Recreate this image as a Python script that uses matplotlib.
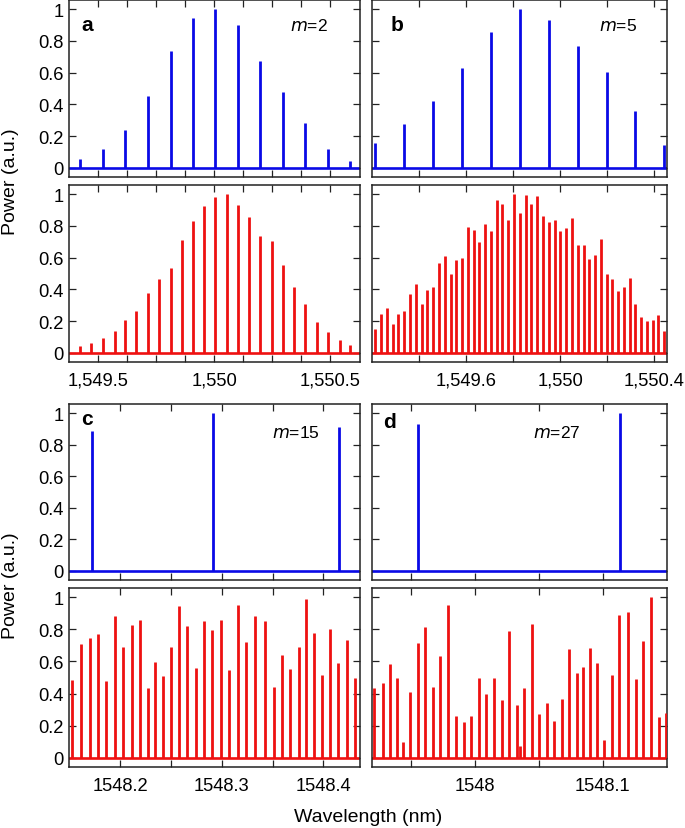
import matplotlib
matplotlib.use("Agg")
import matplotlib.pyplot as plt

plt.rcParams['font.family'] = ['Liberation Sans', 'DejaVu Sans']

BLUE = '#0a0ae6'
RED = '#ee1111'

# ---- panel a (m=2) ----
a_blue_nm = [1549.422, 1549.521, 1549.618, 1549.715, 1549.812, 1549.909, 1550.004,
             1550.102, 1550.197, 1550.295, 1550.392, 1550.491, 1550.585]
a_blue_pw = [0.055, 0.118, 0.237, 0.452, 0.737, 0.945, 0.998, 0.897, 0.676, 0.481,
             0.286, 0.118, 0.046]
a_red_nm = [1549.422, 1549.471, 1549.521, 1549.571, 1549.618, 1549.665, 1549.715,
            1549.764, 1549.812, 1549.861, 1549.909, 1549.957, 1550.004, 1550.055,
            1550.102, 1550.150, 1550.197, 1550.248, 1550.295, 1550.343, 1550.392,
            1550.441, 1550.491, 1550.539, 1550.585]
a_red_pw = [0.042, 0.065, 0.092, 0.136, 0.205, 0.266, 0.377, 0.464, 0.533, 0.709,
            0.833, 0.925, 0.981, 1.0, 0.933, 0.858, 0.734, 0.705, 0.552, 0.416,
            0.310, 0.192, 0.132, 0.082, 0.05]

# ---- panel b (m=5) ----
b_blue_nm = [1549.213, 1549.336, 1549.459, 1549.582, 1549.705, 1549.828, 1549.951,
             1550.074, 1550.197, 1550.320, 1550.443]
b_blue_pw = [0.157, 0.277, 0.421, 0.629, 0.857, 1.0, 0.933, 0.769, 0.604, 0.358, 0.147]
b_red_nm = [1549.213, 1549.238, 1549.262, 1549.287, 1549.311, 1549.336, 1549.361,
            1549.385, 1549.410, 1549.434, 1549.459, 1549.484, 1549.508, 1549.533,
            1549.557, 1549.582, 1549.607, 1549.631, 1549.656, 1549.680, 1549.705,
            1549.730, 1549.754, 1549.779, 1549.803, 1549.828, 1549.853, 1549.877,
            1549.902, 1549.926, 1549.951, 1549.976, 1550.000, 1550.025, 1550.049,
            1550.074, 1550.099, 1550.123, 1550.148, 1550.172, 1550.197, 1550.222,
            1550.246, 1550.271, 1550.295, 1550.320, 1550.345, 1550.369, 1550.394,
            1550.418, 1550.443]
b_red_pw = [0.152, 0.245, 0.283, 0.183, 0.245, 0.262, 0.374, 0.432, 0.308, 0.395,
            0.412, 0.568, 0.609, 0.495, 0.584, 0.599, 0.790, 0.775, 0.696, 0.813,
            0.765, 0.963, 0.936, 0.838, 1.0, 0.879, 0.994, 0.940, 0.988, 0.859,
            0.827, 0.834, 0.765, 0.786, 0.852, 0.678, 0.678, 0.593, 0.615, 0.717,
            0.499, 0.468, 0.391, 0.418, 0.474, 0.308, 0.229, 0.204, 0.208, 0.239,
            0.135]

# ---- panel c (m=15) ----
c_blue_nm = [1548.172, 1548.2916, 1548.4157]
c_blue_pw = [0.887, 1.0, 0.912]
c_red_nm = [1548.1529, 1548.1615, 1548.1700, 1548.1781, 1548.1863, 1548.1948,
            1548.2029, 1548.2115, 1548.2196, 1548.2275, 1548.2343, 1548.2419,
            1548.2497, 1548.2578, 1548.2661, 1548.2742, 1548.2824, 1548.2906,
            1548.2990, 1548.3075, 1548.3161, 1548.3242, 1548.3324, 1548.3422,
            1548.3510, 1548.3592, 1548.3674, 1548.3755, 1548.3830, 1548.3906,
            1548.3984, 1548.4066, 1548.4147, 1548.4229, 1548.4311]
c_red_pw = [0.485, 0.707, 0.748, 0.773, 0.478, 0.885, 0.687, 0.829, 0.856, 0.437,
            0.596, 0.507, 0.687, 0.946, 0.819, 0.557, 0.849, 0.794, 0.856, 0.546,
            0.953, 0.720, 0.885, 0.854, 0.439, 0.643, 0.551, 0.691, 0.990, 0.779,
            0.513, 0.804, 0.588, 0.732, 0.495]

# ---- panel d (m=27) ----
d_blue_nm = [1547.9556, 1548.1135]
d_blue_pw = [0.933, 1.0]
d_red_nm = [1547.9212, 1547.9277, 1547.9334, 1547.9387, 1547.9434, 1547.9491,
            1547.9551, 1547.9608, 1547.9669, 1547.9726, 1547.9786, 1547.9851,
            1547.9911, 1547.9969, 1548.0029, 1548.0086, 1548.0146, 1548.0209,
            1548.0266, 1548.0326, 1548.0352, 1548.0384, 1548.0444, 1548.0501,
            1548.0561, 1548.0621, 1548.0679, 1548.0739, 1548.0799, 1548.0848,
            1548.0900, 1548.0958, 1548.1013, 1548.1073, 1548.1130, 1548.1196,
            1548.1256, 1548.1313, 1548.1376, 1548.1436, 1548.1493]
d_red_pw = [0.433, 0.468, 0.584, 0.499, 0.097, 0.412, 0.715, 0.814, 0.443, 0.633,
            0.953, 0.258, 0.225, 0.258, 0.499, 0.396, 0.499, 0.357, 0.790, 0.330,
            0.076, 0.437, 0.835, 0.274, 0.344, 0.227, 0.365, 0.678, 0.530, 0.567,
            0.685, 0.588, 0.113, 0.518, 0.891, 0.907, 0.489, 0.728, 1.0, 0.252,
            0.282]

# x ticks and labels
a_ticks = [1549.5, 1549.625, 1549.75, 1549.875, 1550.0, 1550.125, 1550.25, 1550.375, 1550.5]
a_labels = ['1,549.5', '', '', '', '1,550', '', '', '', '1,550.5']
b_ticks = [1549.4, 1549.6, 1549.8, 1550.0, 1550.2, 1550.4]
b_labels = ['', '1,549.6', '', '1,550', '', '1,550.4']
c_ticks = [1548.2, 1548.25, 1548.3, 1548.35, 1548.4]
c_labels = ['1548.2', '', '1548.3', '', '1548.4']
d_ticks = [1547.95, 1548.0, 1548.05, 1548.1]
d_labels = ['', '1548', '', '1548.1']
y_ticks = [0, 0.2, 0.4, 0.6, 0.8, 1.0]
y_labels = ['0', '0.2', '0.4', '0.6', '0.8', '1']

W, H = 685, 829
fig = plt.figure(figsize=(W / 100, H / 100), dpi=100)


def box(x0, x1, top, bottom):
    return [x0 / W, (H - bottom) / H, (x1 - x0) / W, (bottom - top) / H]


def spectrum(ax, nm, pw, color, xlim, ticks, labels, show_x, show_y):
    ax.axhline(0, color=color, lw=1.9, zorder=2)
    ax.vlines(nm, 0, pw, color=color, lw=2.0, zorder=3)
    ax.set_xlim(xlim)
    ax.set_ylim(-0.057, 1.057)
    ax.set_xticks(ticks)
    ax.set_xticklabels(labels if show_x else [''] * len(ticks))
    ax.set_yticks(y_ticks)
    ax.set_yticklabels(y_labels if show_y else [''] * len(y_ticks))
    ax.tick_params(direction='in', top=True, right=True, length=5, width=0.9,
                   labelsize=13.2, color='#222222')
    ax.tick_params(axis='x', pad=7)
    ax.tick_params(axis='y', pad=4)
    for s in ax.spines.values():
        s.set_linewidth(1.1)
        s.set_color('#222222')


cols = [(69, 360), (372.3, 666.7)]
rows = [(1, 178, 186, 363), (405, 581, 589, 768)]

panels = [
    (0, 0, a_blue_nm, a_blue_pw, a_red_nm, a_red_pw, (1549.375, 1550.627), a_ticks, a_labels),
    (0, 1, b_blue_nm, b_blue_pw, b_red_nm, b_red_pw, (1549.2, 1550.453), b_ticks, b_labels),
    (1, 0, c_blue_nm, c_blue_pw, c_red_nm, c_red_pw, (1548.1497, 1548.436), c_ticks, c_labels),
    (1, 1, d_blue_nm, d_blue_pw, d_red_nm, d_red_pw, (1547.9196, 1548.150), d_ticks, d_labels),
]
letters = ['a', 'b', 'c', 'd']
orders = ['2', '5', '15', '27']
letter_pos = [(0.062, 0.859), (0.084, 0.859), (0.062, 0.92), (0.06, 0.903)]
order_pos = [(0.825, 0.859), (0.833, 0.859), (0.778, 0.841), (0.625, 0.841)]

for i, (r, c, bnm, bpw, rnm, rpw, xlim, ticks, labels) in enumerate(panels):
    x0, x1 = cols[c]
    t1, b1, t2, b2 = rows[r]
    ax_top = fig.add_axes(box(x0, x1, t1, b1))
    ax_bot = fig.add_axes(box(x0, x1, t2, b2))
    spectrum(ax_top, bnm, bpw, BLUE, xlim, ticks, labels, False, c == 0)
    spectrum(ax_bot, rnm, rpw, RED, xlim, ticks, labels, True, c == 0)
    ax_top.text(*letter_pos[i], letters[i], transform=ax_top.transAxes,
                fontsize=15, fontweight='bold', ha='center', va='center')
    ax_top.text(*order_pos[i], r'$\it{m}$=' + orders[i], transform=ax_top.transAxes,
                fontsize=12.5, ha='center', va='center')

fig.text(11 / W, (H - 182) / H, 'Power (a.u.)', rotation=90, fontsize=14,
         ha='center', va='center')
fig.text(11 / W, (H - 586) / H, 'Power (a.u.)', rotation=90, fontsize=14,
         ha='center', va='center')
fig.text(368 / W, (H - 818) / H, 'Wavelength (nm)', fontsize=14,
         ha='center', va='center')

fig.savefig('out.png', dpi=100)
